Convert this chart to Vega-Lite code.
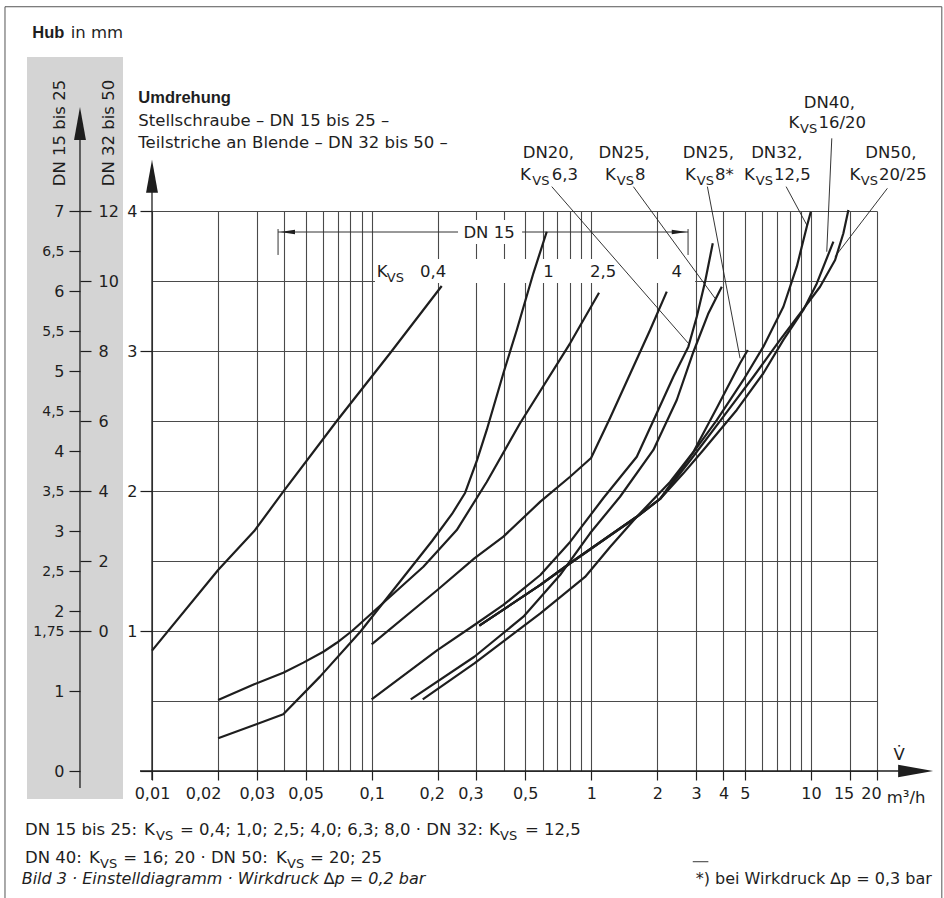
{
"$schema": "https://vega.github.io/schema/vega-lite/v6.json",
"width": 725,
"height": 560,
"autosize": {"type": "none"},
"padding": {"left": 152, "top": 211, "right": 67, "bottom": 127},
"background": "white",
"config": {
  "view": {"stroke": null},
  "font": "DejaVu Sans",
  "axis": {"labelFont": "DejaVu Sans", "labelColor": "#1e1e1e", "tickColor": "#1e1e1e", "domain": false, "labelOverlap": false, "labelFlush": false, "labelBound": false}
},
"datasets": {
  "band": [{"v": 0.002697, "v2": 0.007378, "h": -0.35, "h2": 8.925}],
  "hubline": [{"v": 0.0047, "g": -4.486, "g2": 14.03}],
  "frame": [{"v": 0.002141, "v2": 39.46, "u": -0.957, "u2": 5.459}],
  "boxes": [
    {"v": 0.2474, "v2": 0.4841, "u": 3.764, "u2": 3.936},
    {"v": 0.1036, "v2": 2.97, "u": 3.486, "u2": 3.657}
  ],
  "axislines": [
    {"v": 0.01, "u": -0.064, "v2": 0.01, "u2": 4.15},
    {"v": 0.008818, "u": 0, "v2": 26.86, "u2": 0}
  ],
  "dimline": [
    {"v": 0.03749, "u": 3.85, "v2": 2.759, "u2": 3.85},
    {"v": 0.03749, "u": 3.686, "v2": 0.03749, "u2": 3.871},
    {"v": 2.759, "u": 3.686, "v2": 2.759, "u2": 3.871}
  ],
  "leaders": [
    {"v": 0.661, "u": 4.174, "v2": 2.768, "u2": 3.055},
    {"v": 1.555, "u": 4.174, "v2": 3.663, "u2": 3.376},
    {"v": 3.379, "u": 4.174, "v2": 4.759, "u2": 2.948},
    {"v": 7.713, "u": 4.174, "v2": 9.579, "u2": 3.9},
    {"v": 12.45, "u": 4.519, "v2": 11.81, "u2": 3.709},
    {"v": 22.3, "u": 4.162, "v2": 12.89, "u2": 3.674},
    {"v": 2.899, "u": -0.648, "v2": 3.4136, "u2": -0.648}
  ],
  "arrowsUp": [{"v": 0.01, "u": 4.248}, {"v": 0.0047, "u": 4.625}],
  "arrowsRight": [{"v": 29.98, "u": 0}],
  "dimArrowL": [{"v": 0.0414, "u": 3.85}],
  "dimArrowR": [{"v": 2.516, "u": 3.85}],
  "curves": [
    {"s": "Kvs 0,4", "i": 1, "v": 0.01, "u": 0.86},
    {"s": "Kvs 0,4", "i": 2, "v": 0.02, "u": 1.436},
    {"s": "Kvs 0,4", "i": 3, "v": 0.0292, "u": 1.714},
    {"s": "Kvs 0,4", "i": 4, "v": 0.0396, "u": 1.995},
    {"s": "Kvs 0,4", "i": 5, "v": 0.0694, "u": 2.5},
    {"s": "Kvs 0,4", "i": 6, "v": 0.1213, "u": 2.984},
    {"s": "Kvs 0,4", "i": 7, "v": 0.2085, "u": 3.464},

    {"s": "Kvs 1", "i": 1, "v": 0.02, "u": 0.234},
    {"s": "Kvs 1", "i": 2, "v": 0.0396, "u": 0.405},
    {"s": "Kvs 1", "i": 3, "v": 0.0582, "u": 0.674},
    {"s": "Kvs 1", "i": 4, "v": 0.0888, "u": 0.995},
    {"s": "Kvs 1", "i": 5, "v": 0.1884, "u": 1.643},
    {"s": "Kvs 1", "i": 6, "v": 0.2323, "u": 1.836},
    {"s": "Kvs 1", "i": 7, "v": 0.2663, "u": 1.986},
    {"s": "Kvs 1", "i": 8, "v": 0.302, "u": 2.221},
    {"s": "Kvs 1", "i": 9, "v": 0.3343, "u": 2.436},
    {"s": "Kvs 1", "i": 10, "v": 0.398, "u": 2.841},
    {"s": "Kvs 1", "i": 11, "v": 0.458, "u": 3.15},
    {"s": "Kvs 1", "i": 12, "v": 0.545, "u": 3.555},
    {"s": "Kvs 1", "i": 13, "v": 0.627, "u": 3.852},

    {"s": "Kvs 2,5", "i": 1, "v": 0.02, "u": 0.507},
    {"s": "Kvs 2,5", "i": 2, "v": 0.0292, "u": 0.619},
    {"s": "Kvs 2,5", "i": 3, "v": 0.0396, "u": 0.702},
    {"s": "Kvs 2,5", "i": 4, "v": 0.0489, "u": 0.774},
    {"s": "Kvs 2,5", "i": 5, "v": 0.0603, "u": 0.852},
    {"s": "Kvs 2,5", "i": 6, "v": 0.0694, "u": 0.916},
    {"s": "Kvs 2,5", "i": 7, "v": 0.0814, "u": 1.0},
    {"s": "Kvs 2,5", "i": 8, "v": 0.172, "u": 1.459},
    {"s": "Kvs 2,5", "i": 9, "v": 0.2441, "u": 1.721},
    {"s": "Kvs 2,5", "i": 10, "v": 0.3343, "u": 2.064},
    {"s": "Kvs 2,5", "i": 11, "v": 0.474, "u": 2.484},
    {"s": "Kvs 2,5", "i": 12, "v": 0.801, "u": 3.055},
    {"s": "Kvs 2,5", "i": 13, "v": 1.085, "u": 3.416},

    {"s": "Kvs 4", "i": 1, "v": 0.1, "u": 0.905},
    {"s": "Kvs 4", "i": 2, "v": 0.1992, "u": 1.293},
    {"s": "Kvs 4", "i": 3, "v": 0.2936, "u": 1.519},
    {"s": "Kvs 4", "i": 4, "v": 0.398, "u": 1.674},
    {"s": "Kvs 4", "i": 5, "v": 0.5864, "u": 1.924},
    {"s": "Kvs 4", "i": 6, "v": 0.801, "u": 2.102},
    {"s": "Kvs 4", "i": 7, "v": 0.998, "u": 2.236},
    {"s": "Kvs 4", "i": 8, "v": 1.218, "u": 2.521},
    {"s": "Kvs 4", "i": 9, "v": 1.502, "u": 2.836},
    {"s": "Kvs 4", "i": 10, "v": 1.853, "u": 3.15},
    {"s": "Kvs 4", "i": 11, "v": 2.207, "u": 3.424},

    {"s": "DN20 Kvs 6,3", "i": 1, "v": 0.1, "u": 0.512},
    {"s": "DN20 Kvs 6,3", "i": 2, "v": 0.1992, "u": 0.864},
    {"s": "DN20 Kvs 6,3", "i": 3, "v": 0.2936, "u": 1.043},
    {"s": "DN20 Kvs 6,3", "i": 4, "v": 0.398, "u": 1.186},
    {"s": "DN20 Kvs 6,3", "i": 5, "v": 0.5864, "u": 1.4},
    {"s": "DN20 Kvs 6,3", "i": 6, "v": 0.801, "u": 1.636},
    {"s": "DN20 Kvs 6,3", "i": 7, "v": 1.136, "u": 1.95},
    {"s": "DN20 Kvs 6,3", "i": 8, "v": 1.612, "u": 2.245},
    {"s": "DN20 Kvs 6,3", "i": 9, "v": 1.952, "u": 2.529},
    {"s": "DN20 Kvs 6,3", "i": 10, "v": 2.365, "u": 2.816},
    {"s": "DN20 Kvs 6,3", "i": 11, "v": 2.768, "u": 3.031},
    {"s": "DN20 Kvs 6,3", "i": 12, "v": 3.023, "u": 3.245},
    {"s": "DN20 Kvs 6,3", "i": 13, "v": 3.298, "u": 3.495},
    {"s": "DN20 Kvs 6,3", "i": 14, "v": 3.575, "u": 3.769},

    {"s": "DN25 Kvs 8", "i": 1, "v": 0.1507, "u": 0.512},
    {"s": "DN25 Kvs 8", "i": 2, "v": 0.2936, "u": 0.816},
    {"s": "DN25 Kvs 8", "i": 3, "v": 0.4908, "u": 1.102},
    {"s": "DN25 Kvs 8", "i": 4, "v": 0.7211, "u": 1.4},
    {"s": "DN25 Kvs 8", "i": 5, "v": 0.9875, "u": 1.698},
    {"s": "DN25 Kvs 8", "i": 6, "v": 1.352, "u": 1.959},
    {"s": "DN25 Kvs 8", "i": 7, "v": 1.918, "u": 2.293},
    {"s": "DN25 Kvs 8", "i": 8, "v": 2.451, "u": 2.65},
    {"s": "DN25 Kvs 8", "i": 9, "v": 2.917, "u": 2.993},
    {"s": "DN25 Kvs 8", "i": 10, "v": 3.403, "u": 3.264},
    {"s": "DN25 Kvs 8", "i": 11, "v": 3.93, "u": 3.459},

    {"s": "DN25 Kvs 8*", "i": 1, "v": 0.1709, "u": 0.512},
    {"s": "DN25 Kvs 8*", "i": 2, "v": 0.2936, "u": 0.769},
    {"s": "DN25 Kvs 8*", "i": 3, "v": 0.5864, "u": 1.126},
    {"s": "DN25 Kvs 8*", "i": 4, "v": 0.937, "u": 1.386},
    {"s": "DN25 Kvs 8*", "i": 5, "v": 1.218, "u": 1.6},
    {"s": "DN25 Kvs 8*", "i": 6, "v": 1.612, "u": 1.816},
    {"s": "DN25 Kvs 8*", "i": 7, "v": 2.284, "u": 2.064},
    {"s": "DN25 Kvs 8*", "i": 8, "v": 2.917, "u": 2.279},
    {"s": "DN25 Kvs 8*", "i": 9, "v": 3.728, "u": 2.593},
    {"s": "DN25 Kvs 8*", "i": 10, "v": 4.759, "u": 2.912},
    {"s": "DN25 Kvs 8*", "i": 11, "v": 5.159, "u": 3.007},

    {"s": "DN32 Kvs 12,5", "i": 1, "v": 0.3093, "u": 1.038},
    {"s": "DN32 Kvs 12,5", "i": 2, "v": 0.5864, "u": 1.329},
    {"s": "DN32 Kvs 12,5", "i": 3, "v": 0.801, "u": 1.484},
    {"s": "DN32 Kvs 12,5", "i": 4, "v": 1.136, "u": 1.65},
    {"s": "DN32 Kvs 12,5", "i": 5, "v": 1.612, "u": 1.816},
    {"s": "DN32 Kvs 12,5", "i": 6, "v": 2.058, "u": 1.943},
    {"s": "DN32 Kvs 12,5", "i": 7, "v": 2.818, "u": 2.243},
    {"s": "DN32 Kvs 12,5", "i": 8, "v": 3.728, "u": 2.507},
    {"s": "DN32 Kvs 12,5", "i": 9, "v": 4.926, "u": 2.793},
    {"s": "DN32 Kvs 12,5", "i": 10, "v": 6.077, "u": 3.031},
    {"s": "DN32 Kvs 12,5", "i": 11, "v": 7.496, "u": 3.316},
    {"s": "DN32 Kvs 12,5", "i": 12, "v": 8.625, "u": 3.602},
    {"s": "DN32 Kvs 12,5", "i": 13, "v": 9.579, "u": 3.888},
    {"s": "DN32 Kvs 12,5", "i": 14, "v": 9.99, "u": 3.995},

    {"s": "DN40 Kvs 16/20", "i": 1, "v": 0.3093, "u": 1.038},
    {"s": "DN40 Kvs 16/20", "i": 2, "v": 0.5864, "u": 1.329},
    {"s": "DN40 Kvs 16/20", "i": 3, "v": 0.801, "u": 1.484},
    {"s": "DN40 Kvs 16/20", "i": 4, "v": 1.136, "u": 1.65},
    {"s": "DN40 Kvs 16/20", "i": 5, "v": 1.612, "u": 1.816},
    {"s": "DN40 Kvs 16/20", "i": 6, "v": 2.058, "u": 1.943},
    {"s": "DN40 Kvs 16/20", "i": 7, "v": 2.627, "u": 2.126},
    {"s": "DN40 Kvs 16/20", "i": 8, "v": 3.239, "u": 2.293},
    {"s": "DN40 Kvs 16/20", "i": 9, "v": 4.598, "u": 2.579},
    {"s": "DN40 Kvs 16/20", "i": 10, "v": 6.077, "u": 2.841},
    {"s": "DN40 Kvs 16/20", "i": 11, "v": 7.496, "u": 3.079},
    {"s": "DN40 Kvs 16/20", "i": 12, "v": 9.243, "u": 3.293},
    {"s": "DN40 Kvs 16/20", "i": 13, "v": 10.64, "u": 3.483},
    {"s": "DN40 Kvs 16/20", "i": 14, "v": 12.66, "u": 3.781},

    {"s": "DN50 Kvs 20/25", "i": 1, "v": 0.3093, "u": 1.038},
    {"s": "DN50 Kvs 20/25", "i": 2, "v": 0.5864, "u": 1.329},
    {"s": "DN50 Kvs 20/25", "i": 3, "v": 0.801, "u": 1.484},
    {"s": "DN50 Kvs 20/25", "i": 4, "v": 1.136, "u": 1.65},
    {"s": "DN50 Kvs 20/25", "i": 5, "v": 1.612, "u": 1.816},
    {"s": "DN50 Kvs 20/25", "i": 6, "v": 2.058, "u": 1.943},
    {"s": "DN50 Kvs 20/25", "i": 7, "v": 2.877, "u": 2.236},
    {"s": "DN50 Kvs 20/25", "i": 8, "v": 3.996, "u": 2.531},
    {"s": "DN50 Kvs 20/25", "i": 9, "v": 5.472, "u": 2.816},
    {"s": "DN50 Kvs 20/25", "i": 10, "v": 7.239, "u": 3.079},
    {"s": "DN50 Kvs 20/25", "i": 11, "v": 8.929, "u": 3.269},
    {"s": "DN50 Kvs 20/25", "i": 12, "v": 11.01, "u": 3.459},
    {"s": "DN50 Kvs 20/25", "i": 13, "v": 12.89, "u": 3.65},
    {"s": "DN50 Kvs 20/25", "i": 14, "v": 14.06, "u": 3.841},
    {"s": "DN50 Kvs 20/25", "i": 15, "v": 14.82, "u": 4.007}
  ],
  "textL": [
    {"t": "in mm", "v": 0.004265, "u": 5.234},
    {"t": "Stellschraube – DN 15 bis 25 –", "v": 0.008661, "u": 4.607},
    {"t": "Teilstriche an Blende – DN 32 bis 50 –", "v": 0.008661, "u": 4.448},
    {"t": "K", "v": 0.474, "u": 4.221},
    {"t": "6,3", "v": 0.661, "u": 4.221},
    {"t": "K", "v": 1.1557, "u": 4.221},
    {"t": "8", "v": 1.583, "u": 4.221},
    {"t": "K", "v": 2.6734, "u": 4.221},
    {"t": "8*", "v": 3.663, "u": 4.221},
    {"t": "K", "v": 4.963, "u": 4.221},
    {"t": "12,5", "v": 6.799, "u": 4.221},
    {"t": "K", "v": 7.9, "u": 4.591},
    {"t": "16/20", "v": 10.82, "u": 4.591},
    {"t": "K", "v": 14.98, "u": 4.221},
    {"t": "20/25", "v": 20.45, "u": 4.221},
    {"t": "K", "v": 0.1055, "u": 3.531},
    {"t": "0,4", "v": 0.1662, "u": 3.531},
    {"t": "DN 15 bis 25:", "v": 0.002641, "u": -0.4607},
    {"t": "K", "v": 0.009196, "u": -0.4607},
    {"t": "= 0,4; 1,0; 2,5; 4,0; 6,3; 8,0 · DN 32:", "v": 0.01341, "u": -0.4607},
    {"t": "K", "v": 0.3424, "u": -0.4607},
    {"t": "= 12,5", "v": 0.4994, "u": -0.4607},
    {"t": "DN 40:", "v": 0.002641, "u": -0.6536},
    {"t": "K", "v": 0.005165, "u": -0.6536},
    {"t": "= 16; 20 · DN 50:", "v": 0.007401, "u": -0.6536},
    {"t": "K", "v": 0.03669, "u": -0.6536},
    {"t": "= 20; 25", "v": 0.05242, "u": -0.6536},
    {"t": "m³/h", "v": 22.16, "u": -0.2307}
  ],
  "textSub": [
    {"t": "VS", "v": 0.5393, "u": 4.185},
    {"t": "VS", "v": 1.3067, "u": 4.185},
    {"t": "VS", "v": 3.023, "u": 4.185},
    {"t": "VS", "v": 5.613, "u": 4.185},
    {"t": "VS", "v": 16.88, "u": 4.185},
    {"t": "VS", "v": 8.929, "u": 4.555},
    {"t": "VS", "v": 0.1173, "u": 3.495},
    {"t": "VS", "v": 0.01043, "u": -0.4964},
    {"t": "VS", "v": 0.3843, "u": -0.4964},
    {"t": "VS", "v": 0.005797, "u": -0.6893},
    {"t": "VS", "v": 0.04119, "u": -0.6893}
  ],
  "textC": [
    {"t": "DN20,", "v": 0.638, "u": 4.376},
    {"t": "DN25,", "v": 1.4106, "u": 4.376},
    {"t": "DN25,", "v": 3.4136, "u": 4.376},
    {"t": "DN32,", "v": 6.994, "u": 4.376},
    {"t": "DN40,", "v": 12.14, "u": 4.734},
    {"t": "DN50,", "v": 23.12, "u": 4.376},
    {"t": "1", "v": 0.638, "u": 3.531},
    {"t": "2,5", "v": 1.132, "u": 3.531},
    {"t": "4", "v": 2.451, "u": 3.531},
    {"t": "DN 15", "v": 0.3424, "u": 3.805},
    {"t": "V\u0307", "v": 25.21, "u": 0.0786}
  ],
  "textBold": [
    {"t": "Hub", "v": 0.00285, "u": 5.234},
    {"t": "Umdrehung", "v": 0.008661, "u": 4.769}
  ],
  "textItalic": [
    {"t": "Bild 3 · Einstelldiagramm · Wirkdruck ∆p = 0,2 bar", "v": 0.002551, "u": -0.8107}
  ],
  "textRight": [
    {"t": "*) bei Wirkdruck ∆p = 0,3 bar", "v": 35.53, "u": -0.8107}
  ],
  "textRot": [
    {"t": "DN 15 bis 25", "v": 0.003811, "u": 4.557},
    {"t": "DN 32 bis 50", "v": 0.006372, "u": 4.557}
  ]
},
"resolve": {"scale": {"y": "independent"}, "axis": {"y": "independent"}},
"layer": [
  {
    "data": {"name": "band"},
    "mark": {"type": "rect", "fill": "#d4d4d4"},
    "encoding": {
      "x": {"field": "v", "type": "quantitative", "title": null, "scale": {"type": "log", "domain": [0.01, 20]}},
      "x2": {"field": "v2"},
      "y": {"field": "h", "type": "quantitative", "title": null,
        "scale": {"domain": [0, 7], "nice": false, "zero": false},
        "axis": {"orient": "left", "offset": 72, "zindex": 1, "grid": false, "domain": false,
          "values": [0, 1, 1.75, 2, 2.5, 3, 3.5, 4, 4.5, 5, 5.5, 6, 6.5, 7],
          "labelExpr": "replace(format(datum.value, '~g'), '.', ',')",
          "tickSize": 11, "tickWidth": 1.2, "labelPadding": 5,
          "labelFontSize": {"condition": {"test": "datum.value % 1 != 0", "value": 14}, "value": 16}}},
      "y2": {"field": "h2"}
    }
  },
  {
    "data": {"name": "hubline"},
    "mark": {"type": "rule", "color": "#1e1e1e", "strokeWidth": 1.3},
    "encoding": {
      "x": {"field": "v", "type": "quantitative", "title": null, "scale": {"type": "log", "domain": [0.01, 20]}},
      "y": {"field": "g", "type": "quantitative", "title": null,
        "scale": {"domain": [-4, 12], "nice": false, "zero": false},
        "axis": {"orient": "right", "offset": -797, "zindex": 1, "grid": false, "domain": false,
          "values": [0, 2, 4, 6, 8, 10, 12],
          "labelExpr": "format(datum.value, '~g')",
          "tickSize": 11, "tickWidth": 1.2, "labelPadding": 7, "labelFontSize": 16}},
      "y2": {"field": "g2"}
    }
  },
  {
    "encoding": {
      "x": {"field": "v", "type": "quantitative", "title": null,
        "scale": {"type": "log", "domain": [0.01, 20]},
        "axis": {
          "values": [0.01, 0.02, 0.03, 0.04, 0.05, 0.06, 0.07, 0.08, 0.09, 0.1, 0.2, 0.3, 0.4, 0.5, 0.6, 0.7, 0.8, 0.9, 1, 2, 3, 4, 5, 6, 7, 8, 9, 10, 15, 20],
          "labelExpr": "indexof([0.01,0.02,0.03,0.05,0.1,0.2,0.3,0.5,1,2,3,4,5,10,15,20], datum.value) >= 0 ? replace(format(datum.value, '~g'), '.', ',') : ''",
          "tickOpacity": {"condition": {"test": "indexof([0.01,0.02,0.03,0.05,0.1,0.2,0.3,0.5,1,2,3,4,5,10,15,20], datum.value) < 0", "value": 0}, "value": 1},
          "labelOffset": {"condition": [{"test": "datum.value == 0.02", "value": -15}, {"test": "datum.value == 0.2 || datum.value == 0.3 || datum.value == 15 || datum.value == 20", "value": -6}], "value": 0},
          "tickSize": 9, "tickWidth": 1.2, "labelFontSize": 16, "labelPadding": 5, "labelBaseline": "top",
          "grid": true, "gridColor": "#4a4a4a", "gridWidth": 1.1, "domain": false}},
      "y": {"field": "u", "type": "quantitative", "title": null,
        "scale": {"domain": [0, 4], "nice": false, "zero": false},
        "axis": {
          "orient": "left",
          "values": [0, 0.5, 1, 1.5, 2, 2.5, 3, 3.5, 4],
          "labelExpr": "datum.value >= 1 && datum.value % 1 == 0 ? format(datum.value, '~g') : ''",
          "tickOpacity": {"condition": {"test": "datum.value % 1 != 0", "value": 0}, "value": 1},
          "tickSize": 12, "tickWidth": 1.2, "labelFontSize": 16, "labelPadding": 3,
          "grid": true, "gridColor": "#4a4a4a", "gridWidth": 1.1, "domain": false}}
    },
    "layer": [
      {"data": {"name": "frame"}, "mark": {"type": "rect", "fill": "transparent", "stroke": "#555555", "strokeWidth": 1},
       "encoding": {"x2": {"field": "v2"}, "y2": {"field": "u2"}}},
      {"data": {"name": "dimline"}, "mark": {"type": "rule", "color": "#333333", "strokeWidth": 1},
       "encoding": {"x2": {"field": "v2"}, "y2": {"field": "u2"}}},
      {"data": {"name": "boxes"}, "mark": {"type": "rect", "fill": "white"},
       "encoding": {"x2": {"field": "v2"}, "y2": {"field": "u2"}}},
      {"data": {"name": "axislines"}, "mark": {"type": "rule", "color": "#1e1e1e", "strokeWidth": 1.3},
       "encoding": {"x2": {"field": "v2"}, "y2": {"field": "u2"}}},
      {"data": {"name": "leaders"}, "mark": {"type": "rule", "color": "#1e1e1e", "strokeWidth": 0.9},
       "encoding": {"x2": {"field": "v2"}, "y2": {"field": "u2"}}},
      {"data": {"name": "curves"}, "mark": {"type": "line", "color": "#1e1e1e", "strokeWidth": 2.2, "strokeJoin": "round"},
       "encoding": {"detail": {"field": "s", "type": "nominal"}, "order": {"field": "i", "type": "quantitative"}}},
      {"data": {"name": "arrowsUp"}, "mark": {"type": "point", "shape": "M0,-1L0.36,1L-0.36,1Z", "size": 1089, "filled": true, "color": "#1e1e1e", "opacity": 1, "strokeWidth": 0}, "encoding": {}},
      {"data": {"name": "arrowsRight"}, "mark": {"type": "point", "shape": "M1,0L-1,-0.36L-1,0.36Z", "size": 1225, "filled": true, "color": "#1e1e1e", "opacity": 1, "strokeWidth": 0}, "encoding": {}},
      {"data": {"name": "dimArrowL"}, "mark": {"type": "point", "shape": "M-1,0L1,-0.3L1,0.3Z", "size": 225, "filled": true, "color": "#1e1e1e", "opacity": 1, "strokeWidth": 0}, "encoding": {}},
      {"data": {"name": "dimArrowR"}, "mark": {"type": "point", "shape": "M1,0L-1,-0.3L-1,0.3Z", "size": 225, "filled": true, "color": "#1e1e1e", "opacity": 1, "strokeWidth": 0}, "encoding": {}},
      {"data": {"name": "textL"}, "mark": {"type": "text", "align": "left", "baseline": "alphabetic", "fontSize": 16.5, "font": "DejaVu Sans", "color": "#1e1e1e"},
       "encoding": {"text": {"field": "t"}}},
      {"data": {"name": "textSub"}, "mark": {"type": "text", "align": "left", "baseline": "alphabetic", "fontSize": 13, "font": "DejaVu Sans", "color": "#1e1e1e"},
       "encoding": {"text": {"field": "t"}}},
      {"data": {"name": "textC"}, "mark": {"type": "text", "align": "center", "baseline": "alphabetic", "fontSize": 16.5, "font": "DejaVu Sans", "color": "#1e1e1e"},
       "encoding": {"text": {"field": "t"}}},
      {"data": {"name": "textBold"}, "mark": {"type": "text", "align": "left", "baseline": "alphabetic", "fontSize": 16.5, "font": "Liberation Sans", "fontWeight": "bold", "color": "#1e1e1e"},
       "encoding": {"text": {"field": "t"}}},
      {"data": {"name": "textItalic"}, "mark": {"type": "text", "align": "left", "baseline": "alphabetic", "fontSize": 16, "font": "DejaVu Sans", "fontStyle": "italic", "color": "#1e1e1e"},
       "encoding": {"text": {"field": "t"}}},
      {"data": {"name": "textRight"}, "mark": {"type": "text", "align": "right", "baseline": "alphabetic", "fontSize": 16, "font": "DejaVu Sans", "color": "#1e1e1e"},
       "encoding": {"text": {"field": "t"}}},
      {"data": {"name": "textRot"}, "mark": {"type": "text", "align": "center", "baseline": "middle", "angle": 270, "fontSize": 16.5, "font": "DejaVu Sans", "color": "#1e1e1e"},
       "encoding": {"text": {"field": "t"}}}
    ]
  }
]
}
